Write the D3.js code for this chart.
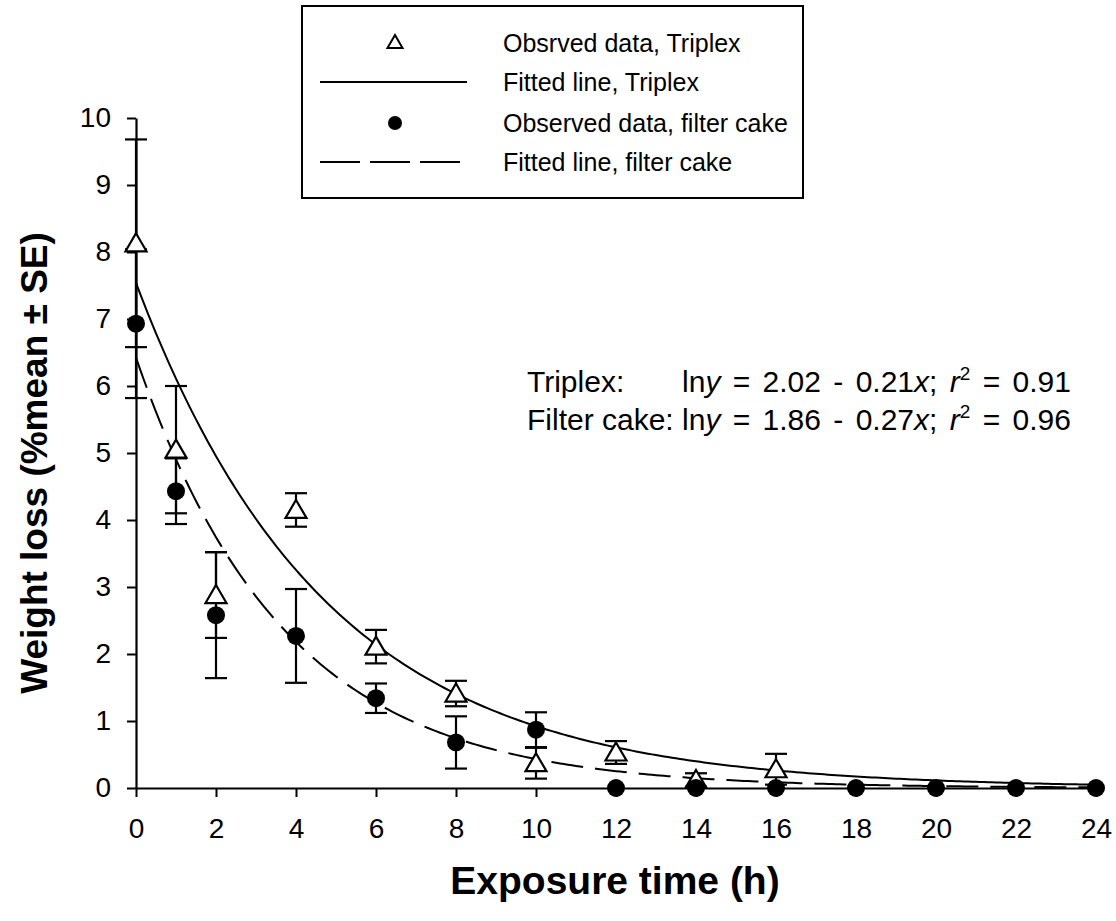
<!DOCTYPE html>
<html>
<head>
<meta charset="utf-8">
<script src="https://cdn.jsdelivr.net/npm/d3@7/dist/d3.min.js"></script>
<style>
  html, body { margin: 0; padding: 0; background: #fff; }
  svg { display: block; }
  text { font-family: Arial, "Liberation Sans", sans-serif; fill: #000; }
</style>
</head>
<body>
<svg id="chart" width="1116" height="921"></svg>
<script>
// Exposure time (h) for each sampling point
const timesTriplex = [0, 1, 2, 4, 6, 8, 10, 12, 14, 16];
const meanTriplex  = [8.13, 5.05, 2.88, 4.15, 2.11, 1.41, 0.37, 0.53, 0.12, 0.28];
const seTriplex    = [1.55, 0.95, 0.64, 0.25, 0.25, 0.19, 0.23, 0.17, 0.10, 0.23];

const timesCake = [0, 1, 2, 4, 6, 8, 10, 12, 14, 16, 18, 20, 22, 24];
const meanCake  = [6.93, 4.43, 2.58, 2.27, 1.34, 0.68, 0.87, 0, 0, 0, 0, 0, 0, 0];
const seCake    = [1.11, 0.49, 0.94, 0.70, 0.22, 0.39, 0.26, 0, 0, 0, 0, 0, 0, 0];

// Fitted models: ln y = a - b x
const fitTriplex = { a: 2.02, b: 0.21, r2: 0.91 };
const fitCake    = { a: 1.86, b: 0.27, r2: 0.96 };

const xTicks = [0, 2, 4, 6, 8, 10, 12, 14, 16, 18, 20, 22, 24];
const yTicks = [0, 1, 2, 3, 4, 5, 6, 7, 8, 9, 10];

const legendLabels = [
  "Obsrved data, Triplex",
  "Fitted line, Triplex",
  "Observed data, filter cake",
  "Fitted line, filter cake"
];

const svg = d3.select("#chart");

const x = d3.scaleLinear().domain([0, 24]).range([136, 1096]);
const y = d3.scaleLinear().domain([0, 10]).range([788, 118]);

// Axes
const xAxis = d3.axisBottom(x).tickValues(xTicks).tickSize(9).tickPadding(21).tickSizeOuter(0);
const yAxis = d3.axisLeft(y).tickValues(yTicks).tickSize(9).tickPadding(16).tickSizeOuter(0);

const gx = svg.append("g").attr("transform", `translate(0,${y(0)})`).call(xAxis);
const gy = svg.append("g").attr("transform", `translate(${x(0)},0)`).call(yAxis);

[gx, gy].forEach(g => {
  g.attr("font-size", null).attr("font-family", null);
  g.select(".domain").attr("stroke", "#000").attr("stroke-width", 2.2);
  g.selectAll(".tick line").attr("stroke", "#000").attr("stroke-width", 2);
  g.selectAll(".tick text")
    .style("font-family", "Arial, 'Liberation Sans', sans-serif")
    .style("font-size", "28px")
    .attr("fill", "#000");
});

// Axis titles
svg.append("text")
  .attr("x", 615).attr("y", 894)
  .attr("text-anchor", "middle")
  .style("font-size", "39px").style("font-weight", "bold")
  .text("Exposure time (h)");

svg.append("text")
  .attr("transform", "translate(47,463) rotate(-90)")
  .attr("text-anchor", "middle")
  .style("font-size", "37px").style("font-weight", "bold")
  .text("Weight loss (%mean \u00B1 SE)");

// Fitted curves
const curveX = d3.range(0, 24.001, 0.1);
const line = d3.line().x(d => x(d[0])).y(d => y(d[1]));
const fitPoints = f => curveX.map(t => [t, Math.exp(f.a - f.b * t)]);

svg.append("path")
  .datum(fitPoints(fitTriplex))
  .attr("d", line)
  .attr("fill", "none").attr("stroke", "#000").attr("stroke-width", 2);

svg.append("path")
  .datum(fitPoints(fitCake))
  .attr("d", line)
  .attr("fill", "none").attr("stroke", "#000").attr("stroke-width", 2)
  .attr("stroke-dasharray", "32,12");

// Error bars
const capHalf = 11;
function errorBars(times, means, ses) {
  const rows = times.map((t, i) => ({ t, m: means[i], s: ses[i] })).filter(d => d.s > 0);
  const g = svg.append("g").attr("stroke", "#000").attr("stroke-width", 2.2);
  rows.forEach(d => {
    g.append("line")
      .attr("x1", x(d.t)).attr("x2", x(d.t))
      .attr("y1", y(d.m + d.s)).attr("y2", y(d.m - d.s));
    [d.m + d.s, d.m - d.s].forEach(v => {
      g.append("line")
        .attr("x1", x(d.t) - capHalf).attr("x2", x(d.t) + capHalf)
        .attr("y1", y(v)).attr("y2", y(v));
    });
  });
}
errorBars(timesCake, meanCake, seCake);
errorBars(timesTriplex, meanTriplex, seTriplex);

// Markers
const triPath = "M0,-11 L10.5,7 L-10.5,7 Z";
svg.append("g").selectAll("path")
  .data(timesTriplex.map((t, i) => [t, meanTriplex[i]]))
  .join("path")
  .attr("d", triPath)
  .attr("transform", d => `translate(${x(d[0])},${y(d[1]) + 1})`)
  .attr("fill", "#fff").attr("stroke", "#000").attr("stroke-width", 2.2);

svg.append("g").selectAll("circle")
  .data(timesCake.map((t, i) => [t, meanCake[i]]))
  .join("circle")
  .attr("cx", d => x(d[0])).attr("cy", d => y(d[1]))
  .attr("r", 9).attr("fill", "#000");

// Legend
svg.append("rect")
  .attr("x", 302).attr("y", 6).attr("width", 501).attr("height", 192)
  .attr("fill", "#fff").attr("stroke", "#000").attr("stroke-width", 2);

const legRowY = [43, 82, 123, 162];
const legG = svg.append("g");
legG.append("path").attr("d", "M0,-8 L7.5,5 L-7.5,5 Z")
  .attr("transform", `translate(395,${legRowY[0]})`)
  .attr("fill", "#fff").attr("stroke", "#000").attr("stroke-width", 2);
legG.append("line").attr("x1", 320).attr("x2", 467)
  .attr("y1", legRowY[1]).attr("y2", legRowY[1])
  .attr("stroke", "#000").attr("stroke-width", 2);
legG.append("circle").attr("cx", 395).attr("cy", legRowY[2]).attr("r", 7).attr("fill", "#000");
legG.append("line").attr("x1", 320).attr("x2", 460)
  .attr("y1", legRowY[3]).attr("y2", legRowY[3])
  .attr("stroke", "#000").attr("stroke-width", 2)
  .attr("stroke-dasharray", "40,10");

legG.selectAll("text.leg")
  .data(legendLabels)
  .join("text")
  .attr("class", "leg")
  .attr("x", 503).attr("y", (d, i) => legRowY[i] + 9)
  .style("font-size", "25px")
  .text(d => d);

// Regression equations: the name column, then the model aligned after it
const eqFont = "30px";
const names = [
  { name: "Triplex:", f: fitTriplex, y: 392 },
  { name: "Filter cake:", f: fitCake, y: 430 }
];
names.forEach(r =>
  svg.append("text").attr("x", 527).attr("y", r.y).style("font-size", eqFont).text(r.name)
);
const probe = svg.append("text").style("font-size", eqFont).text("Filter cake:\u00A0");
const eqX = 527 + probe.node().getComputedTextLength();
probe.remove();

names.forEach(r => {
  const f = r.f;
  const t2 = svg.append("text").attr("x", eqX).attr("y", r.y)
    .style("font-size", eqFont).style("word-spacing", "4px");
  t2.append("tspan").text("ln");
  t2.append("tspan").style("font-style", "italic").text("y");
  t2.append("tspan").text(` = ${f.a.toFixed(2)} - ${f.b.toFixed(2)}`);
  t2.append("tspan").style("font-style", "italic").text("x");
  t2.append("tspan").text("; ");
  t2.append("tspan").style("font-style", "italic").text("r");
  t2.append("tspan").attr("dy", -12).style("font-size", "19px").text("2");
  t2.append("tspan").attr("dy", 12).text(` = ${f.r2.toFixed(2)}`);
});
</script>
</body>
</html>
